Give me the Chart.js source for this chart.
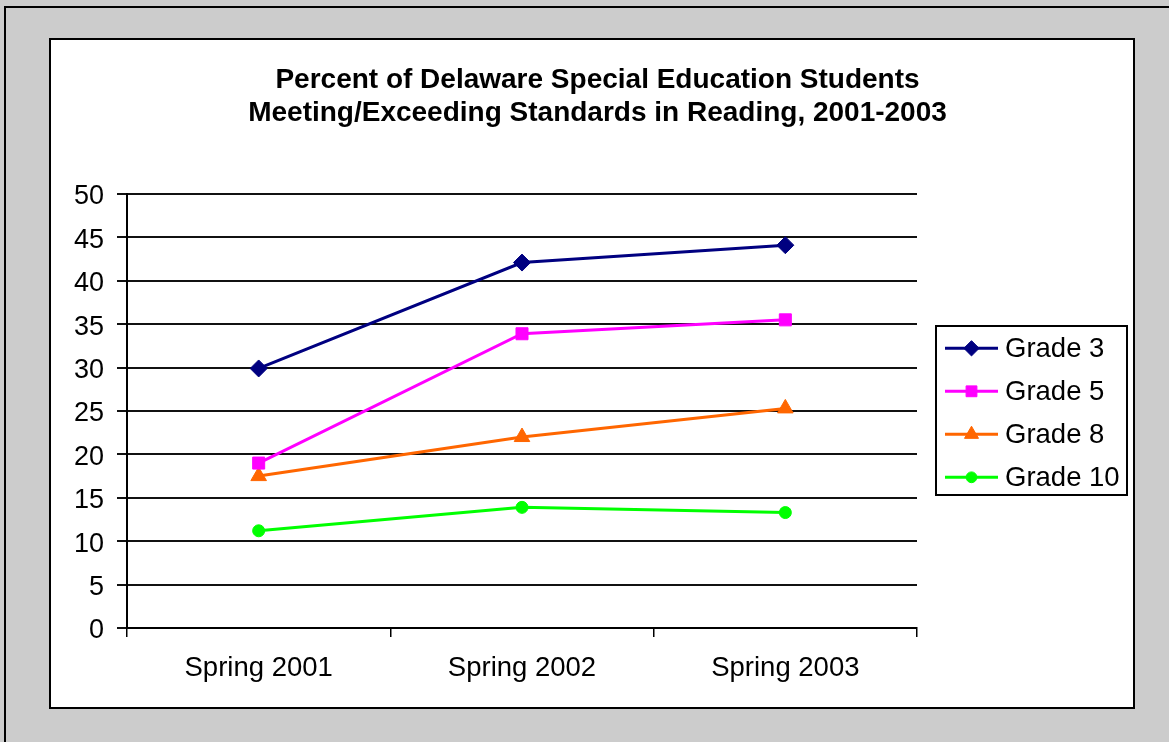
<!DOCTYPE html>
<html>
<head>
<meta charset="utf-8">
<script src="https://cdn.jsdelivr.net/npm/chart.js@4/dist/chart.umd.min.js"></script>
<style>
  body { margin: 0; width: 1169px; height: 742px; overflow: hidden; position: relative; background: #cccccc; }
  .frame { position: absolute; left: 4px; top: 6px; width: 1300px; height: 900px; border: 2px solid #000; }
  .panel { position: absolute; left: 49px; top: 38px; width: 1086px; height: 671px; box-sizing: border-box; background: #fff; border: 2px solid #000; }
  #myChart { position: absolute; left: 0; top: 0; }
</style>
</head>
<body>
<div class="frame"></div>
<div class="panel"></div>
<canvas id="myChart" width="1169" height="742"></canvas>
<script>
const titleLines = [
    "Percent of Delaware Special Education Students",
    "Meeting/Exceeding Standards in Reading, 2001-2003",
];
const seasons = ["Spring 2001", "Spring 2002", "Spring 2003"];
const seriesNames = ["Grade 3", "Grade 5", "Grade 8", "Grade 10"];
const grade3 = [29.9, 42.1, 44.1];
const grade5 = [19.0, 33.9, 35.5];
const grade8 = [17.5, 22.0, 25.3];
const grade10 = [11.2, 13.9, 13.3];
const yMin = 0;
const yMax = 50;
const yStep = 5;

const FONT = "'Liberation Sans', Arial, sans-serif";

// legend in excel style: line + marker + label, in a box right of the plot
const lineLegend = {
    id: "lineLegend",
    afterDraw(chart) {
        const ctx = chart.ctx;
        const area = chart.chartArea;
        const left = area.right + 19;
        const top = area.top + 132;
        ctx.save();
        ctx.lineWidth = 2;
        ctx.strokeStyle = "#000";
        ctx.strokeRect(left, top, 191, 169);
        ctx.font = "27.5px " + FONT;
        ctx.textBaseline = "alphabetic";
        ctx.textAlign = "left";
        chart.data.datasets.forEach((ds, i) => {
            const y = top + 22.3 + i * 43;
            ctx.strokeStyle = ds.borderColor;
            ctx.lineWidth = 3;
            ctx.beginPath();
            ctx.moveTo(left + 9, y);
            ctx.lineTo(left + 62, y);
            ctx.stroke();
            ctx.fillStyle = ds.borderColor;
            ctx.lineWidth = 1;
            Chart.helpers.drawPoint(
                ctx,
                {
                    pointStyle: ds.pointStyle,
                    radius: ds.pointRadius * 0.9,
                    rotation: 0,
                    borderWidth: 1,
                },
                left + 35.5,
                y
            );
            ctx.fillStyle = "#000";
            ctx.fillText(ds.label, left + 69, y + 8.6);
        });
        ctx.restore();
    },
};

function line(label, data, color, style, radius) {
    return {
        label: label,
        data: data,
        borderColor: color,
        backgroundColor: color,
        borderWidth: 3,
        tension: 0,
        pointStyle: style,
        pointRadius: radius,
        pointBackgroundColor: color,
        pointBorderColor: color,
        pointBorderWidth: 1,
    };
}

const ctx = document.getElementById("myChart");
new Chart(ctx, {
    type: "line",
    data: {
        labels: seasons,
        datasets: [
            line(seriesNames[0], grade3, "#000080", "rectRot", 8.5),
            line(seriesNames[1], grade5, "#ff00ff", "rect", 8.5),
            line(seriesNames[2], grade8, "#ff6600", "triangle", 9),
            line(seriesNames[3], grade10, "#00ff00", "circle", 6),
        ],
    },
    options: {
        responsive: false,
        animation: false,
        layout: {
            padding: { top: 40, left: 62, right: 36, bottom: 54 },
        },
        plugins: {
            legend: { display: false },
            tooltip: { enabled: false },
            title: {
                display: true,
                text: titleLines,
                color: "#000",
                font: { family: FONT, size: 28, weight: "bold", lineHeight: 1.2 },
                padding: { top: 23, bottom: 63.8 },
            },
        },
        scales: {
            x: {
                offset: true,
                grid: {
                    offset: true,
                    drawOnChartArea: false,
                    drawTicks: true,
                    tickLength: 9,
                    color: "#000",
                    lineWidth: 1.5,
                },
                border: { display: true, color: "#000", width: 2 },
                ticks: {
                    color: "#000",
                    padding: 15,
                    maxRotation: 0,
                    font: { family: FONT, size: 27.5 },
                },
                afterFit(scale) {
                    scale.height = 60;
                },
            },
            y: {
                min: yMin,
                max: yMax,
                grid: {
                    color: "#111",
                    lineWidth: 2,
                    tickLength: 10,
                },
                border: { display: true, color: "#000", width: 2 },
                ticks: {
                    stepSize: yStep,
                    color: "#000",
                    padding: 13,
                    labelOffset: 3,
                    font: { family: FONT, size: 27 },
                },
                afterFit(scale) {
                    scale.width = 65;
                },
            },
            // empty axis on the right only keeps room for the legend box
            legendSpace: {
                type: "linear",
                position: "right",
                display: true,
                grid: { display: false },
                border: { display: false },
                ticks: { display: false },
                afterFit(scale) {
                    scale.width = 216;
                },
            },
        },
    },
    plugins: [lineLegend],
});
</script>
</body>
</html>
